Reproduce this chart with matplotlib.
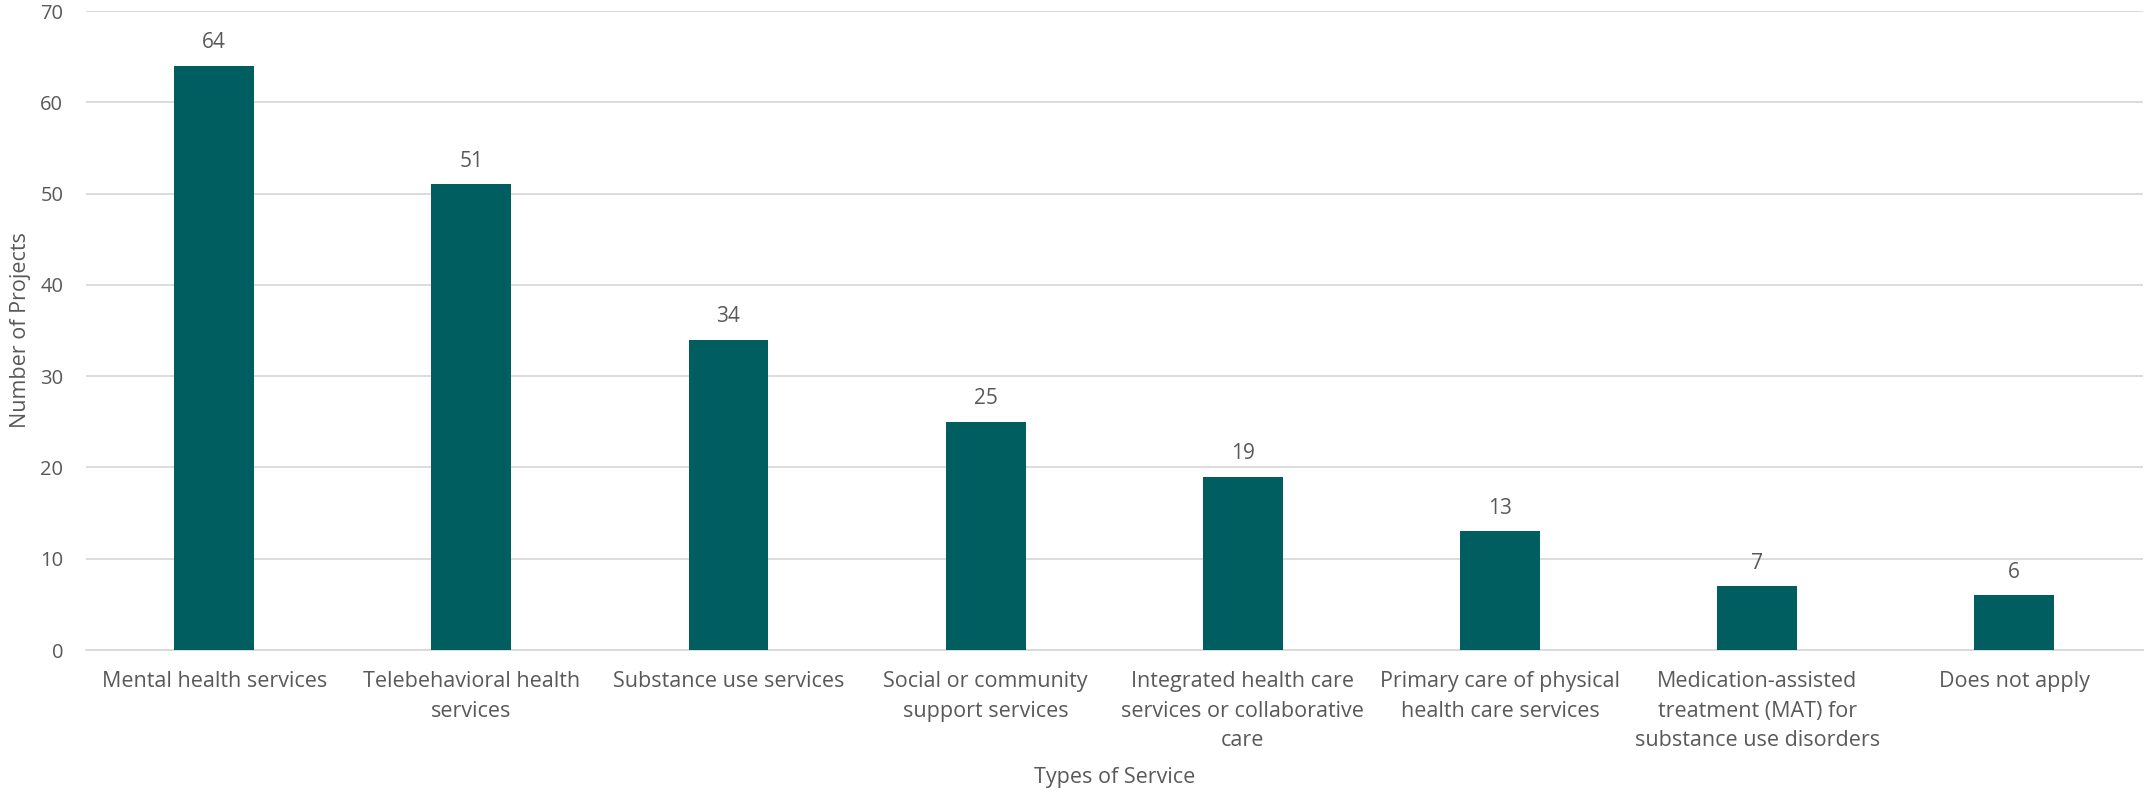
import matplotlib
matplotlib.use("Agg")
import matplotlib.pyplot as plt

categories = [
    "Mental health services",
    "Telebehavioral health\nservices",
    "Substance use services",
    "Social or community\nsupport services",
    "Integrated health care\nservices or collaborative\ncare",
    "Primary care of physical\nhealth care services",
    "Medication-assisted\ntreatment (MAT) for\nsubstance use disorders",
    "Does not apply",
]
projects = [64, 51, 34, 25, 19, 13, 7, 6]
y_ticks = [0, 10, 20, 30, 40, 50, 60, 70]

BAR = "#005E60"
TEXT = "#595959"
GRID = "#D9D9D9"
FONT = "Open Sans"

fig = plt.figure(figsize=(21.45, 7.93), dpi=100)
ax = fig.add_axes([0.0399, 0.1803, 0.9591, 0.8058])

x = list(range(len(categories)))
ax.bar(x, projects, width=0.31, color=BAR, zorder=3)
for xi, v in zip(x, projects):
    ax.annotate(str(v), (xi, v), xytext=(0, 9), textcoords="offset points",
                ha="center", va="bottom", fontsize=15, color=TEXT, family=FONT)

ax.set_xlim(-0.5, len(categories) - 0.5)
ax.set_ylim(0, 70)
ax.set_yticks(y_ticks)
ax.set_yticklabels([str(t) for t in y_ticks], family=FONT, fontsize=14.5, color=TEXT)
ax.set_xticks(x)
ax.set_xticklabels(categories, family=FONT, fontsize=15.5, color=TEXT,
                   linespacing=1.55, va="top")
ax.tick_params(axis="both", length=0)
ax.tick_params(axis="x", pad=15)
ax.tick_params(axis="y", pad=16)
ax.yaxis.grid(True, color=GRID, linewidth=1.3, zorder=0)
for s in ["top", "right", "left"]:
    ax.spines[s].set_visible(False)
ax.spines["bottom"].set_color(GRID)
ax.spines["bottom"].set_linewidth(1.3)

ax.set_xlabel("Types of Service", family=FONT, fontsize=15.5, color=TEXT, labelpad=11)
ax.set_ylabel("Number of Projects", family=FONT, fontsize=15.5, color=TEXT, labelpad=7)

fig.savefig("out.png", dpi=100, facecolor="white")
